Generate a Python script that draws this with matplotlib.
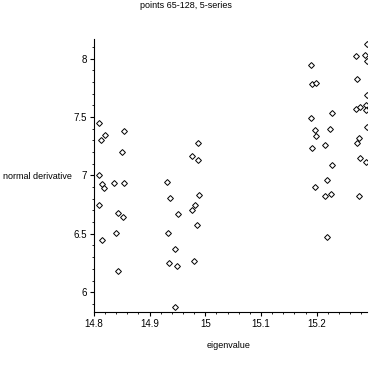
import matplotlib
matplotlib.use('Agg')

import matplotlib.pyplot as plt
from matplotlib.ticker import MultipleLocator

plt.rcParams['font.family'] = ['Liberation Sans', 'DejaVu Sans']

# eigenvalue / normal derivative pairs
left_x = [14.810, 14.854, 14.820, 14.812, 14.850, 14.810, 14.815, 14.819,
          14.837, 14.854, 14.810, 14.843, 14.852, 14.815, 14.839, 14.843]
left_y = [7.448, 7.379, 7.348, 7.302, 7.199, 7.002, 6.924, 6.890,
          6.936, 6.936, 6.744, 6.678, 6.644, 6.444, 6.504, 6.178]

mid_x = [14.932, 14.936, 14.951, 14.976, 14.987, 14.986, 14.988, 14.981,
         14.977, 14.985, 14.933, 14.946, 14.935, 14.949, 14.979, 14.946]
mid_y = [6.944, 6.804, 6.667, 7.167, 7.276, 7.130, 6.833, 6.744,
         6.704, 6.572, 6.504, 6.367, 6.246, 6.221, 6.264, 5.877]

right_x = [15.290, 15.270, 15.286, 15.290, 15.190, 15.192, 15.199, 15.272,
           15.290, 15.270, 15.278, 15.289, 15.288, 15.228, 15.190, 15.196,
           15.224, 15.199, 15.290, 15.276, 15.273, 15.215, 15.192, 15.278,
           15.288, 15.228, 15.219, 15.196, 15.215, 15.226, 15.276, 15.219]
right_y = [8.126, 8.020, 8.029, 7.980, 7.943, 7.783, 7.794, 7.826,
           7.691, 7.571, 7.585, 7.605, 7.562, 7.534, 7.491, 7.391,
           7.397, 7.339, 7.419, 7.319, 7.276, 7.259, 7.233, 7.148,
           7.113, 7.088, 6.959, 6.899, 6.822, 6.839, 6.822, 6.470]

xs = left_x + mid_x + right_x
ys = left_y + mid_y + right_y

fig = plt.figure(figsize=(3.71, 3.71), dpi=100)
ax = fig.add_axes([0.253, 0.159, 0.736, 0.736])

ax.plot(xs, ys, linestyle='none', marker='D', markersize=3.0,
        markerfacecolor='white', markeredgecolor='black', markeredgewidth=0.7)

ax.set_xlim(14.8, 15.29)
ax.set_ylim(5.83, 8.17)
ax.set_xticks([14.8, 14.9, 15.0, 15.1, 15.2])
ax.set_xticklabels(['14.8', '14.9', '15', '15.1', '15.2'])
ax.set_yticks([6, 6.5, 7, 7.5, 8])
ax.set_yticklabels(['6', '6.5', '7', '7.5', '8'])
ax.xaxis.set_minor_locator(MultipleLocator(0.02))
ax.yaxis.set_minor_locator(MultipleLocator(0.1))

ax.spines['top'].set_visible(False)
ax.spines['right'].set_visible(False)
ax.tick_params(axis='both', which='major', labelsize=7, length=3, width=0.8, pad=2)
ax.tick_params(axis='both', which='minor', length=1.5, width=0.6)

fig.text(186 / 371, 1 - 6 / 371, "points 65-128, 5-series", ha='center', va='center', fontsize=6.5)
fig.text(3 / 371, 1 - 176 / 371, "normal derivative", ha='left', va='center', fontsize=6.5)
fig.text(229 / 371, 1 - 346 / 371, "eigenvalue", ha='center', va='center', fontsize=6.5)

plt.savefig("out.png", dpi=100)
